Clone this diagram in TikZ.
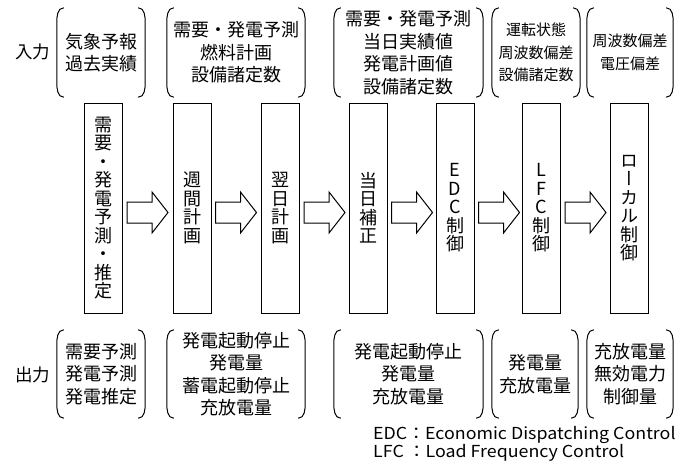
\documentclass[tikz,border=0pt]{standalone}
\usepackage{fontspec}
\setmainfont{Noto Sans CJK JP}
\usetikzlibrary{calc}
\newcommand\blkarrow[1]{%
  \draw[blk] ($(#1.east)+(4,-6)$) -- ($(#1.east)+(29,-6)$) -- ($(#1.east)+(29,-16)$)
    -- ($(#1.east)+(45,4.5)$) -- ($(#1.east)+(29,25)$) -- ($(#1.east)+(29,15)$)
    -- ($(#1.east)+(4,15)$) -- cycle;}
\begin{document}
\begin{tikzpicture}[x=1pt,y=-1pt,
  lw/.style={line width=1pt},
  vbox/.style={draw,lw,minimum width=38pt,minimum height=210pt,inner sep=0pt,align=center,font=\fontsize{18}{18.5}\selectfont},
  grp/.style={inner sep=0pt,align=center,font=\fontsize{18}{22.5}\selectfont},
  sgrp/.style={inner sep=0pt,align=center,font=\fontsize{15}{22.5}\selectfont},
  lower/.style={execute at begin node=\rule{0pt}{#1}},
  lbl/.style={inner sep=0pt,font=\fontsize{17.5}{20}\selectfont},
  blk/.style={draw,lw,fill=white,line join=miter},
]
\useasboundingbox (0,0) rectangle (688,461);

% input groups
\node[grp,lower=20pt,minimum width=88pt,minimum height=89pt] (i1) at (101,52.5) {気象予報\\過去実績};
\node[grp,lower=20pt,minimum width=138pt,minimum height=89pt] (i2) at (236,52.5) {需要・発電予測\\燃料計画\\設備諸定数};
\node[grp,lower=18pt,minimum width=149pt,minimum height=89pt] (i3) at (408.5,52.5) {需要・発電予測\\当日実績値\\発電計画値\\設備諸定数};
\node[sgrp,lower=18pt,minimum width=88pt,minimum height=89pt] (i4) at (536,52.5) {運転状態\\周波数偏差\\設備諸定数};
\node[sgrp,lower=17pt,minimum width=86pt,minimum height=89pt] (i5) at (630,52.5) {周波数偏差\\電圧偏差};

% output groups
\node[grp,minimum width=88pt,minimum height=88pt] (o1) at (101,374) {需要予測\\発電予測\\発電推定};
\node[grp,minimum width=138pt,minimum height=88pt] (o2) at (236,374) {発電起動停止\\発電量\\蓄電起動停止\\充放電量};
\node[grp,minimum width=149pt,minimum height=88pt] (o3) at (408.5,374) {発電起動停止\\発電量\\充放電量};
\node[grp,minimum width=86pt,minimum height=88pt] (o4) at (535,374) {発電量\\充放電量};
\node[grp,minimum width=86pt,minimum height=88pt] (o5) at (630,374) {充放電量\\無効電力\\制御量};

\foreach \n in {i1,i2,i3,i4,i5,o1,o2,o3,o4,o5}{
  \draw[lw] ([xshift=7pt]\n.north west) to[out=180,in=90] ([yshift=-15pt]\n.north west)
    -- ([yshift=15pt]\n.south west) to[out=-90,in=180] ([xshift=7pt]\n.south west);
  \draw[lw] ([xshift=-7pt]\n.north east) to[out=0,in=90] ([yshift=-15pt]\n.north east)
    -- ([yshift=15pt]\n.south east) to[out=-90,in=0] ([xshift=-7pt]\n.south east);
}

% labels
\node[lbl] (lin) at (33,52) {入力};
\node[lbl] (lout) at (33,375) {出力};

% process boxes
\node[vbox] (b1) at (103.5,208) {需\\要\\・\\発\\電\\予\\測\\・\\推\\定};
\node[vbox] (b2) at (192,208) {週\\間\\計\\画};
\node[vbox] (b3) at (280.5,208) {翌\\日\\計\\画};
\node[vbox] (b4) at (368,208) {当\\日\\補\\正};
\node[vbox] (b5) at (455,208) {E\\D\\C\\制\\御};
\node[vbox] (b6) at (541.5,208) {L\\F\\C\\制\\御};
\node[vbox,font=\fontsize{18}{18.5}\selectfont\addfontfeature{RawFeature=+vert}] (b7) at (629,208) {ロ\\ー\\カ\\ル\\制\\御};

% block arrows
\blkarrow{b1}
\blkarrow{b2}
\blkarrow{b3}
\blkarrow{b4}
\blkarrow{b5}
\blkarrow{b6}

% footnote
\node[anchor=west,inner sep=0pt,align=left,font=\fontsize{16.5}{18}\selectfont\addfontfeature{FakeStretch=1.08}] (note) at (373,444) {EDC：Economic Dispatching Control\\LFC ：Load Frequency Control};
\end{tikzpicture}
\end{document}
